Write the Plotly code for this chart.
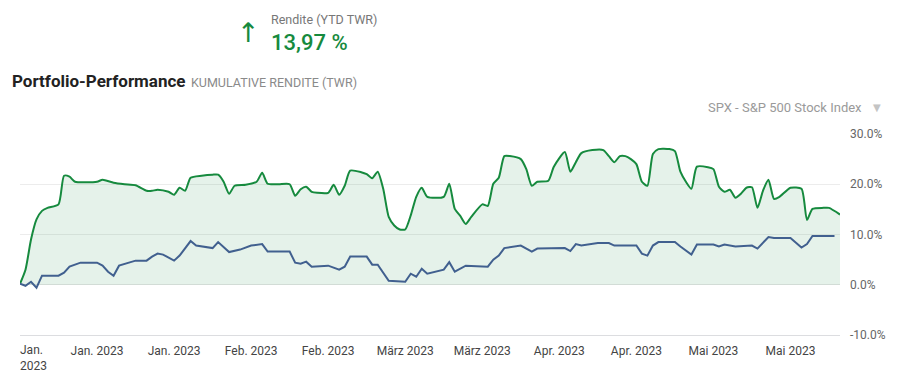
import plotly.graph_objects as go

# Portfolio (green) cumulative return, %
portfolio_dates = [
    "2023-01-01", "2023-01-02", "2023-01-03", "2023-01-04", "2023-01-05", "2023-01-06",
    "2023-01-08", "2023-01-09", "2023-01-10", "2023-01-11", "2023-01-15", "2023-01-16",
    "2023-01-18", "2023-01-20", "2023-01-22", "2023-01-24", "2023-01-25", "2023-01-26",
    "2023-01-28", "2023-01-29", "2023-01-30", "2023-01-31", "2023-02-01", "2023-02-03",
    "2023-02-05", "2023-02-06", "2023-02-07", "2023-02-08", "2023-02-09", "2023-02-11",
    "2023-02-13", "2023-02-14", "2023-02-15", "2023-02-17", "2023-02-19", "2023-02-20",
    "2023-02-21", "2023-02-22", "2023-02-23", "2023-02-24", "2023-02-26", "2023-02-27",
    "2023-02-28", "2023-03-01", "2023-03-02", "2023-03-04", "2023-03-05", "2023-03-06",
    "2023-03-07", "2023-03-08", "2023-03-09", "2023-03-10", "2023-03-11", "2023-03-12",
    "2023-03-13", "2023-03-14", "2023-03-15", "2023-03-16", "2023-03-19", "2023-03-20",
    "2023-03-21", "2023-03-22", "2023-03-23", "2023-03-24", "2023-03-26", "2023-03-27",
    "2023-03-28", "2023-03-29", "2023-03-30", "2023-03-31", "2023-04-02", "2023-04-03",
    "2023-04-04", "2023-04-05", "2023-04-07", "2023-04-08", "2023-04-10", "2023-04-11",
    "2023-04-12", "2023-04-13", "2023-04-15", "2023-04-17", "2023-04-18", "2023-04-19",
    "2023-04-20", "2023-04-21", "2023-04-22", "2023-04-23", "2023-04-24", "2023-04-25",
    "2023-04-26", "2023-04-27", "2023-04-29", "2023-04-30", "2023-05-01", "2023-05-02",
    "2023-05-03", "2023-05-04", "2023-05-06", "2023-05-07", "2023-05-08", "2023-05-09",
    "2023-05-10", "2023-05-11", "2023-05-12", "2023-05-13", "2023-05-14", "2023-05-15",
    "2023-05-16", "2023-05-17", "2023-05-18", "2023-05-19", "2023-05-21", "2023-05-23",
    "2023-05-24", "2023-05-25", "2023-05-27", "2023-05-28", "2023-05-30",
]
portfolio_values = [
    0.2, 3.0, 9.0, 13.0, 14.7, 15.3,
    16.0, 21.7, 21.5, 20.5, 20.5, 20.9,
    20.3, 20.0, 19.8, 18.7, 18.7, 18.9,
    18.5, 17.9, 19.3, 18.7, 21.3, 21.7,
    21.9, 21.9, 20.5, 18.1, 19.7, 19.9,
    20.5, 22.3, 20.1, 20.0, 20.0, 17.7,
    19.0, 19.5, 18.5, 18.3, 18.3, 19.9,
    17.9, 19.7, 22.7, 22.4, 22.0, 21.2,
    22.5, 19.1, 13.5, 11.8, 11.0, 11.0,
    13.8, 17.5, 19.3, 17.5, 17.5, 20.1,
    15.1, 13.7, 12.1, 13.5, 16.0, 15.7,
    20.1, 21.3, 25.6, 25.6, 25.0, 23.0,
    19.7, 20.5, 20.7, 23.5, 26.4, 22.5,
    24.4, 26.2, 26.8, 26.8, 25.6, 24.4,
    25.6, 25.6, 25.0, 24.0, 20.5, 19.7,
    26.0, 27.0, 27.0, 26.6, 22.5, 20.5,
    19.1, 23.5, 23.4, 23.0, 19.5, 18.5,
    18.9, 17.3, 18.1, 19.3, 19.4, 15.3,
    18.7, 20.9, 17.1, 17.5, 19.3, 19.1,
    12.9, 15.1, 15.3, 15.3, 13.97,
]

# Benchmark SPX (blue) cumulative return, %
benchmark_dates = [
    "2023-01-01", "2023-01-02", "2023-01-03", "2023-01-04", "2023-01-05", "2023-01-08",
    "2023-01-09", "2023-01-10", "2023-01-12", "2023-01-15", "2023-01-16", "2023-01-17",
    "2023-01-18", "2023-01-19", "2023-01-22", "2023-01-24", "2023-01-25", "2023-01-26",
    "2023-01-27", "2023-01-29", "2023-01-30", "2023-02-01", "2023-02-02", "2023-02-05",
    "2023-02-06", "2023-02-08", "2023-02-10", "2023-02-12", "2023-02-14", "2023-02-15",
    "2023-02-19", "2023-02-20", "2023-02-21", "2023-02-22", "2023-02-23", "2023-02-26",
    "2023-02-28", "2023-03-01", "2023-03-02", "2023-03-05", "2023-03-06", "2023-03-07",
    "2023-03-09", "2023-03-12", "2023-03-13", "2023-03-14", "2023-03-15", "2023-03-16",
    "2023-03-19", "2023-03-20", "2023-03-21", "2023-03-22", "2023-03-23", "2023-03-27",
    "2023-03-28", "2023-03-29", "2023-03-30", "2023-04-02", "2023-04-04", "2023-04-05",
    "2023-04-10", "2023-04-11", "2023-04-12", "2023-04-13", "2023-04-16", "2023-04-18",
    "2023-04-19", "2023-04-23", "2023-04-24", "2023-04-25", "2023-04-26", "2023-04-27",
    "2023-04-30", "2023-05-01", "2023-05-03", "2023-05-04", "2023-05-07", "2023-05-08",
    "2023-05-09", "2023-05-11", "2023-05-14", "2023-05-15", "2023-05-17", "2023-05-18",
    "2023-05-21", "2023-05-23", "2023-05-24", "2023-05-25", "2023-05-29",
]
benchmark_values = [
    0.2, -0.2, 0.6, -0.6, 1.8, 1.8,
    2.4, 3.6, 4.4, 4.4, 3.8, 2.6,
    1.8, 3.8, 4.8, 4.8, 5.6, 6.2,
    6.0, 4.8, 5.8, 8.7, 7.8, 7.3,
    8.5, 6.5, 7.0, 7.8, 8.1, 6.6,
    6.6, 4.4, 4.2, 4.6, 3.6, 3.8,
    3.0, 3.6, 5.6, 5.6, 4.0, 4.0,
    0.8, 0.6, 2.2, 1.6, 3.2, 2.2,
    3.0, 4.5, 2.6, 3.2, 3.8, 3.6,
    5.0, 5.8, 7.3, 7.8, 6.6, 7.2,
    7.3, 6.7, 8.1, 7.8, 8.3, 8.3,
    7.8, 7.8, 6.2, 5.8, 7.8, 8.5,
    8.5, 7.6, 6.0, 8.0, 8.0, 7.6,
    8.0, 7.6, 7.8, 7.2, 9.5, 9.3,
    9.3, 7.4, 8.1, 9.7, 9.7,
]

tick_dates = ["2023-01-15", "2023-01-29", "2023-02-12", "2023-02-26",
              "2023-03-12", "2023-03-26", "2023-04-09", "2023-04-23", "2023-05-07",
              "2023-05-21"]
tick_labels = ["Jan. 2023", "Jan. 2023", "Feb. 2023", "Feb. 2023",
               "März 2023", "März 2023", "Apr. 2023", "Apr. 2023", "Mai 2023",
               "Mai 2023"]
first_tick_date = ["2023-01-01"]
first_tick_label = ["Jan.<br>2023"]
x_range = ["2023-01-01", "2023-05-30"]
y_ticks = [-10, 0, 10, 20, 30]

FONT = "Roboto"
GREEN = "#168a3e"
BLUE = "#41608f"

fig = go.Figure()
fig.add_trace(go.Scatter(
    x=portfolio_dates, y=portfolio_values, mode="lines",
    line=dict(color=GREEN, width=2, shape="spline", smoothing=0.6),
    fill="tozeroy", fillcolor="rgba(22,138,62,0.11)",
    name="Portfolio", hoverinfo="skip",
))
fig.add_trace(go.Scatter(
    x=benchmark_dates, y=benchmark_values, mode="lines",
    line=dict(color=BLUE, width=2),
    name="SPX - S&P 500 Stock Index", hoverinfo="skip",
))
# invisible helper trace so the overlaying axis (first tick label) is drawn
fig.add_trace(go.Scatter(
    x=benchmark_dates[:1], y=benchmark_values[:1], mode="lines",
    line=dict(color="rgba(0,0,0,0)", width=0), xaxis="x2", yaxis="y",
    showlegend=False, hoverinfo="skip",
))

W, H = 897, 374
L, R, T, B = 20, 57, 134, 39
pw, ph = W - L - R, H - T - B


def px(x):
    return (x - L) / pw


def py(y):
    return (H - B - y) / ph


annotations = [
    dict(text="↑", x=px(248), y=py(33), xanchor="center", yanchor="middle",
         font=dict(family="DejaVu Sans", size=27, color=GREEN)),
    dict(text="Rendite (YTD TWR)", x=px(269), y=py(19), xanchor="left", yanchor="middle",
         font=dict(family=FONT, size=12.5, color="#777777")),
    dict(text="13,97 %", x=px(269), y=py(43), xanchor="left", yanchor="middle",
         font=dict(family=FONT, size=22, color=GREEN, weight=500)),
    dict(text="<b>Portfolio-Performance</b>", x=px(10), y=py(81), xanchor="left", yanchor="middle",
         font=dict(family=FONT, size=17, color="#222222")),
    dict(text="KUMULATIVE RENDITE (TWR)", x=px(189), y=py(82), xanchor="left", yanchor="middle",
         font=dict(family=FONT, size=12.5, color="#8a8a8a")),
    dict(text="SPX - S&P 500 Stock Index", x=px(706), y=py(108), xanchor="left", yanchor="middle",
         font=dict(family=FONT, size=13, color="#9a9a9a")),
    dict(text="▼", x=px(877), y=py(108), xanchor="center", yanchor="middle",
         font=dict(family="DejaVu Sans", size=10, color="#c4c4c4")),
]
for a in annotations:
    a.update(xref="paper", yref="paper", showarrow=False)

tickfont_x = dict(family=FONT, size=12, color="#444444")

fig.update_layout(
    width=W, height=H,
    margin=dict(l=L, r=R, t=T, b=B, pad=0, autoexpand=False),
    paper_bgcolor="white", plot_bgcolor="white",
    showlegend=False,
    font=dict(family=FONT),
    annotations=annotations,
    xaxis=dict(
        type="date", range=x_range,
        tickvals=tick_dates, ticktext=tick_labels,
        showgrid=False, zeroline=False, automargin=False,
        showline=True, linecolor="#dcdde0", linewidth=1,
        ticks="", ticklabelstandoff=5, tickfont=tickfont_x,
        fixedrange=True,
    ),
    xaxis2=dict(
        type="date", range=x_range, overlaying="x", anchor="y", side="bottom",
        tickvals=first_tick_date, ticktext=first_tick_label,
        ticklabelposition="outside right", ticklabelstandoff=6,
        showgrid=False, zeroline=False, showline=False, automargin=False,
        ticks="", tickfont=tickfont_x, fixedrange=True,
    ),
    yaxis=dict(
        side="right", range=[-10, 30], tickvals=y_ticks,
        ticktext=[f"{v:.1f}%" for v in y_ticks],
        showgrid=True, gridcolor="#ececec", gridwidth=1,
        zeroline=True, zerolinecolor="#e4e4e4", zerolinewidth=1,
        automargin=False,
        ticks="", ticklabelstandoff=9,
        tickfont=dict(family=FONT, size=12, color="#666666"),
        fixedrange=True,
    ),
)

fig.write_html(
    "out.html",
    config={"displayModeBar": False},
    post_script="document.body.style.margin='0px';",
)
